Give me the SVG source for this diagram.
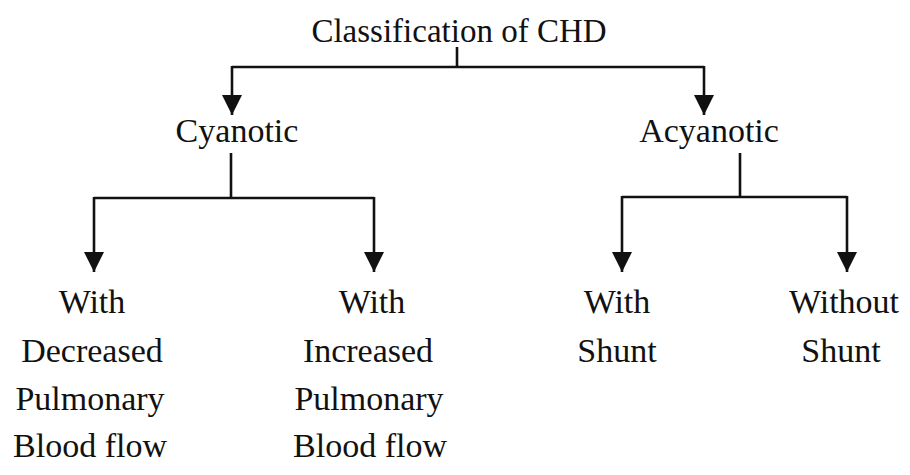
<svg xmlns="http://www.w3.org/2000/svg" width="910" height="475" viewBox="0 0 910 475">
<defs>
<style>
text{font-size:34px;fill:#111;text-anchor:middle}
.ln{fill:none;stroke:#111;stroke-width:2.6}
</style>
<marker id="ah" viewBox="0 0 20 20" refX="20" refY="10" markerWidth="20" markerHeight="20" markerUnits="userSpaceOnUse" orient="auto">
<path d="M0,0 L20,10 L0,20 Z" fill="#111"/>
</marker>
</defs>
<rect width="910" height="475" fill="#fff"/>
<g id="connectors">
<path class="ln" d="M457,47 V67"/>
<path class="ln" d="M232,67 H704"/>
<path class="ln" d="M232,66 V115" marker-end="url(#ah)"/>
<path class="ln" d="M704,66 V115" marker-end="url(#ah)"/>
<path class="ln" d="M231,153 V198"/>
<path class="ln" d="M94,198 H374"/>
<path class="ln" d="M94,197 V272" marker-end="url(#ah)"/>
<path class="ln" d="M374,197 V272" marker-end="url(#ah)"/>
<path class="ln" d="M740,153 V197"/>
<path class="ln" d="M622,197 H847"/>
<path class="ln" d="M622,196 V272" marker-end="url(#ah)"/>
<path class="ln" d="M847,196 V272" marker-end="url(#ah)"/>
</g>
<g font-family="'Liberation Serif', 'DejaVu Serif', serif">
<g id="root"><text x="459" y="42" style="font-size:33px">Classification of CHD</text></g>
<g id="cyanotic"><text x="237" y="142">Cyanotic</text></g>
<g id="acyanotic"><text x="709" y="142">Acyanotic</text></g>
<g id="decreased">
<text x="92" y="313">With</text>
<text x="92" y="362">Decreased</text>
<text x="90" y="410">Pulmonary</text>
<text x="90" y="457">Blood flow</text>
</g>
<g id="increased">
<text x="372" y="313">With</text>
<text x="368" y="362">Increased</text>
<text x="369" y="410">Pulmonary</text>
<text x="370" y="457">Blood flow</text>
</g>
<g id="with-shunt">
<text x="617" y="313">With</text>
<text x="617" y="362">Shunt</text>
</g>
<g id="without-shunt">
<text x="844" y="313">Without</text>
<text x="841" y="362">Shunt</text>
</g>
</g>
</svg>
